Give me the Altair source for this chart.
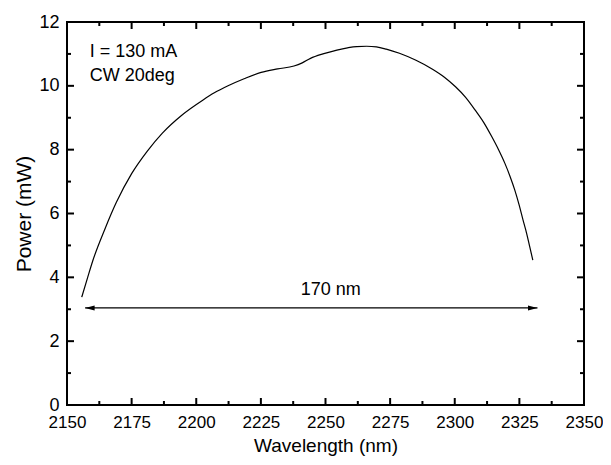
import altair as alt
import pandas as pd

# Spectrum
wavelength = [2155.7, 2158.0, 2160.1, 2164.6, 2169.1, 2175.0, 2181.0, 2186.9, 2194.4, 2202.5,
              2207.0, 2212.3, 2218.5, 2225.1, 2231.5, 2237.8, 2241.0, 2244.2, 2249.0, 2254.4,
              2258.5, 2262.0, 2265.9, 2269.7, 2273.5, 2278.6, 2285.0, 2291.4, 2296.0, 2300.3,
              2304.2, 2307.9, 2311.3, 2314.3, 2317.0, 2319.4, 2321.4, 2323.2, 2324.9, 2326.4,
              2327.8, 2329.0, 2330.2]
power = [3.38, 4.00, 4.55, 5.50, 6.35, 7.25, 7.95, 8.52, 9.08, 9.55,
         9.78, 10.00, 10.22, 10.42, 10.53, 10.62, 10.72, 10.86, 11.00, 11.12,
         11.19, 11.23, 11.24, 11.22, 11.15, 11.02, 10.80, 10.52, 10.27, 9.97,
         9.64, 9.24, 8.84, 8.41, 7.99, 7.57, 7.16, 6.74, 6.27, 5.80,
         5.38, 4.96, 4.54]

x_major = [2150, 2175, 2200, 2225, 2250, 2275, 2300, 2325, 2350]
x_minor = [2162.5, 2187.5, 2212.5, 2237.5, 2262.5, 2287.5, 2312.5, 2337.5]
y_major = [0, 2, 4, 6, 8, 10, 12]
y_minor = [1, 3, 5, 7, 9, 11]

arrow_x = [2157.0, 2332.0]
arrow_y = [3.04, 3.04]
span_label = ["170 nm"]
span_label_pos = [2252.0, 3.6]
notes = ["I = 130 mA", "CW 20deg"]
notes_x = [2158.8, 2158.8]
notes_y = [11.07, 10.32]

W, H = 517, 383
FONT = "Liberation Sans"
xs = alt.Scale(domain=[2150, 2350], nice=False, zero=False)
ys = alt.Scale(domain=[0, 12], nice=False, zero=False)
xa = alt.Axis(values=x_major, ticks=False, domain=False, grid=False, labelFontSize=17,
              labelPadding=9, labelColor="black", labelFont=FONT, format="d",
              title="Wavelength (nm)", titleFontSize=19, titleFont=FONT, titleFontWeight="normal",
              titlePadding=6, titleColor="black", labelFlush=False)
ya = alt.Axis(values=y_major, ticks=False, domain=False, grid=False, labelFontSize=18,
              labelPadding=8, labelColor="black", labelFont=FONT, format="d",
              title="Power (mW)", titleFontSize=21, titleFont=FONT, titleFontWeight="normal",
              titlePadding=4, titleColor="black", labelFlush=False)

def X(f):
    return alt.X(f, scale=xs, axis=xa)

def Y(f):
    return alt.Y(f, scale=ys, axis=ya)

df = pd.DataFrame({"wl": wavelength, "p": power})
line = alt.Chart(df).mark_line(color="black", strokeWidth=1.2, interpolate="monotone").encode(
    x=X("wl:Q"), y=Y("p:Q"))

TW = 2

def xticks(vals, length):
    d = pd.DataFrame({"wl": vals})
    b = alt.Chart(d).mark_rule(color="black", strokeWidth=TW).encode(
        x=X("wl:Q"), y=alt.value(H), y2=alt.value(H - length))
    t = alt.Chart(d).mark_rule(color="black", strokeWidth=TW).encode(
        x=X("wl:Q"), y=alt.value(0), y2=alt.value(length))
    return [b, t]

def yticks(vals, length):
    d = pd.DataFrame({"p": vals})
    l = alt.Chart(d).mark_rule(color="black", strokeWidth=TW).encode(
        y=Y("p:Q"), x=alt.value(0), x2=alt.value(length))
    r = alt.Chart(d).mark_rule(color="black", strokeWidth=TW).encode(
        y=Y("p:Q"), x=alt.value(W), x2=alt.value(W - length))
    return [l, r]

arrow_df = pd.DataFrame({"wl": [arrow_x[0]], "x2": [arrow_x[1]], "p": [arrow_y[0]]})
arrow_line = alt.Chart(arrow_df).mark_rule(color="black", strokeWidth=1.2).encode(
    x=X("wl:Q"), x2="x2:Q", y=Y("p:Q"))
head_l = alt.Chart(pd.DataFrame({"wl": [arrow_x[0]], "p": [arrow_y[0]]})).mark_point(
    shape="M 0 0 L 1.9 -0.5 L 1.9 0.5 Z", size=100, filled=True, color="black", opacity=1
).encode(x=X("wl:Q"), y=Y("p:Q"))
head_r = alt.Chart(pd.DataFrame({"wl": [arrow_x[1]], "p": [arrow_y[1]]})).mark_point(
    shape="M 0 0 L -1.9 -0.5 L -1.9 0.5 Z", size=100, filled=True, color="black", opacity=1
).encode(x=X("wl:Q"), y=Y("p:Q"))

span_text = alt.Chart(pd.DataFrame({"wl": [span_label_pos[0]], "p": [span_label_pos[1]], "t": span_label})).mark_text(
    font=FONT, fontSize=18, color="black", align="center", baseline="middle"
).encode(x=X("wl:Q"), y=Y("p:Q"), text="t:N")

note_text = alt.Chart(pd.DataFrame({"wl": notes_x, "p": notes_y, "t": notes})).mark_text(
    font=FONT, fontSize=18, color="black", align="left", baseline="middle"
).encode(x=X("wl:Q"), y=Y("p:Q"), text="t:N")

layers = [line] + xticks(x_major, 7) + xticks(x_minor, 4) + yticks(y_major, 7) + yticks(y_minor, 4) + \
    [arrow_line, head_l, head_r, span_text, note_text]

chart = alt.layer(*layers).properties(
    width=W, height=H,
    background="white",
    autosize=alt.AutoSizeParams(type="none"),
    padding={"left": 59, "top": 14, "right": 19, "bottom": 52},
).configure_view(stroke="black", strokeWidth=2)

chart.save("out.html", embed_options={"renderer": "svg", "actions": False})
